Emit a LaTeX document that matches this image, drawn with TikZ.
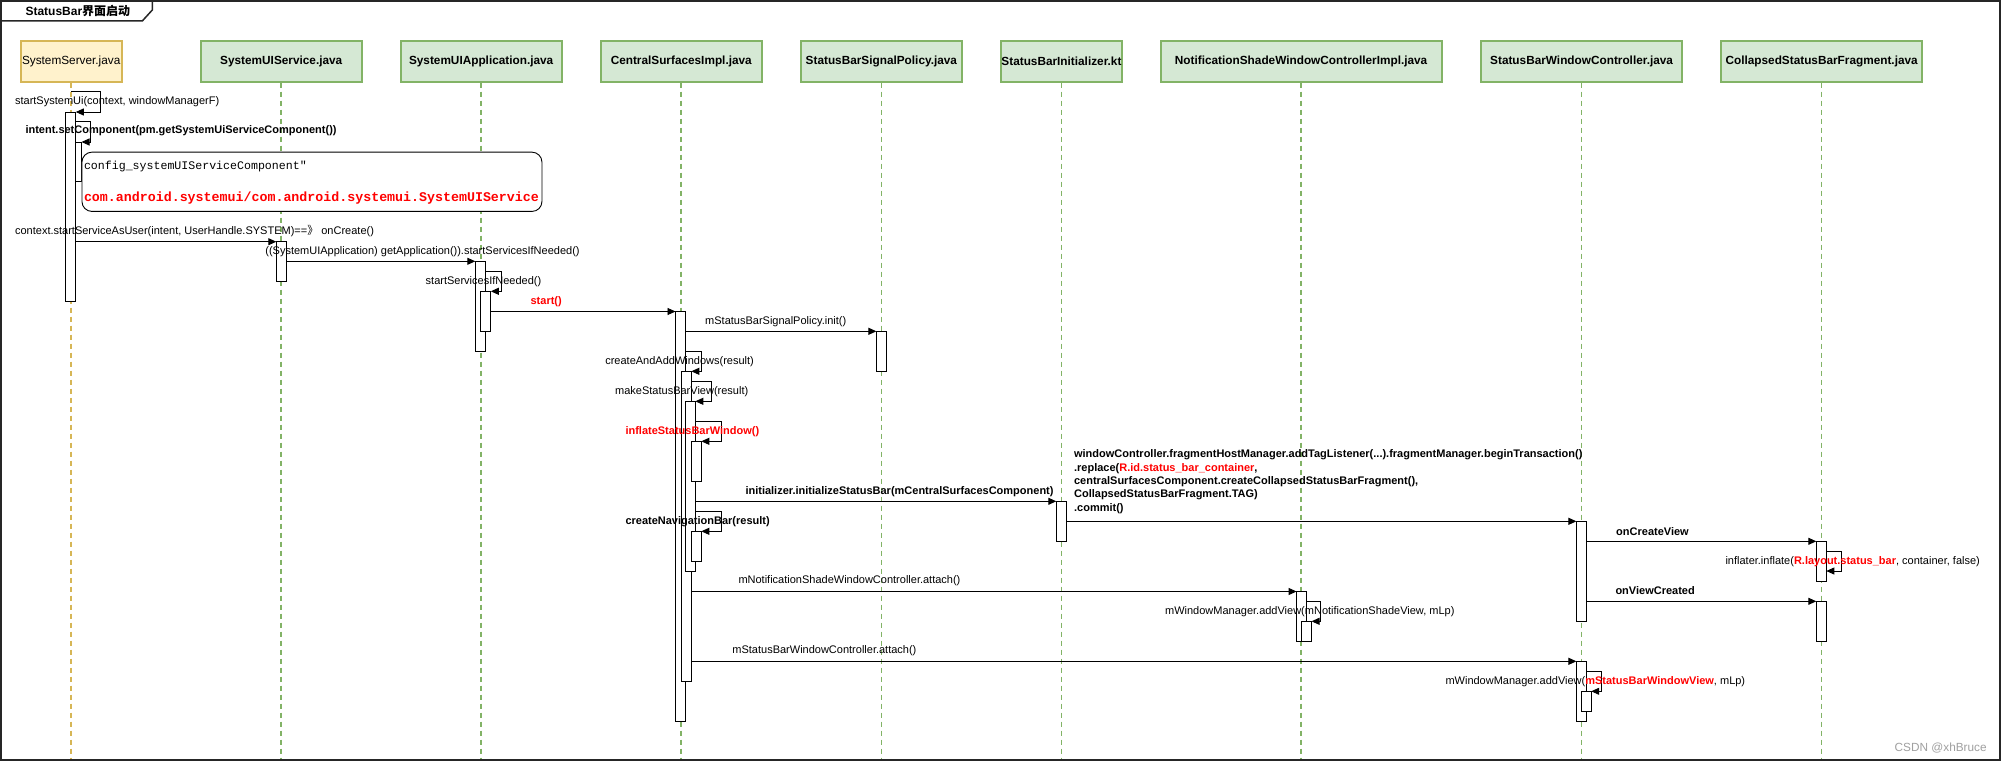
\documentclass[tikz,border=0pt]{standalone}
\usepackage{fontspec}
\setmainfont{Liberation Sans}
\newfontfamily\monof{Liberation Mono}
\newfontfamily\cjk{Noto Sans CJK SC}
\usetikzlibrary{arrows.meta,calc}
\definecolor{gfill}{HTML}{D5E8D4}
\definecolor{gline}{HTML}{82B366}
\definecolor{yfill}{HTML}{FFF2CC}
\definecolor{yline}{HTML}{D6B656}
\definecolor{redt}{HTML}{FF0000}
\definecolor{wmark}{HTML}{A0A0A0}
\begin{document}
\begin{tikzpicture}[x=1pt,y=-1pt,
  hdr/.style={draw=gline, fill=gfill, line width=2pt, minimum height=40.7pt, inner sep=0pt, font=\fontsize{11.8}{14}\selectfont\bfseries},
  hdry/.style={draw=yline, fill=yfill, line width=2pt, minimum height=40.7pt, inner sep=0pt, font=\fontsize{11.8}{14}\selectfont},
  lifeg/.style={draw=gline, line width=1.6pt, dash pattern=on 5pt off 4pt},
  lifey/.style={draw=yline, line width=1.6pt, dash pattern=on 5pt off 4pt},
  act/.style={draw=black, fill=white, line width=0.9pt, anchor=north west, minimum width=10pt, inner sep=0pt, outer sep=0pt},
  msg/.style={draw=black, line width=0.9pt, -{Triangle[length=8pt,width=7pt]}},
  lbl/.style={anchor=west, inner sep=0pt, font=\fontsize{11}{13.3}\selectfont},
  lblb/.style={anchor=west, inner sep=0pt, font=\fontsize{11}{13.3}\selectfont\bfseries},
  notebox/.style={draw=black, fill=white, line width=0.9pt, rounded corners=10pt, anchor=north west, inner sep=0pt},
]
\useasboundingbox (0,0) rectangle (2002,762);
\fill[white] (0,0) rectangle (2002,762);
% frame
\draw[black!85, line width=2pt] (1,1) rectangle (2000,760);
\draw[black!85, line width=1.5pt] (1,21) -- (142.3,21) -- (152.3,10) -- (152.3,1);
\node[anchor=west, inner sep=0pt, font=\fontsize{12}{14}\selectfont\bfseries] (title) at (25.3,11) {StatusBar{\cjk 界面启动}};

% headers
\node[hdry, minimum width=101pt] (SS) at (71.2,61.35) {SystemServer.java};
\node[hdr, minimum width=160.7pt] (SUIS) at (281.25,61.35) {SystemUIService.java};
\node[hdr, minimum width=161.1pt] (SUIA) at (481.15,61.35) {SystemUIApplication.java};
\node[hdr, minimum width=160.7pt] (CS) at (681.25,61.35) {CentralSurfacesImpl.java};
\node[hdr, minimum width=161.5pt] (SBSP) at (881.35,61.35) {StatusBarSignalPolicy.java};
\node[hdr, minimum width=121.3pt] (SBI) at (1061.45,61.35) {StatusBarInitializer.kt};
\node[hdr, minimum width=281.2pt] (NSW) at (1301.1,61.35) {NotificationShadeWindowControllerImpl.java};
\node[hdr, minimum width=201.6pt] (SBWC) at (1581.6,61.35) {StatusBarWindowController.java};
\node[hdr, minimum width=201.3pt] (CSBF) at (1821.65,61.35) {CollapsedStatusBarFragment.java};

\coordinate (bot) at (0,758);
\draw[lifey] (SS.south) -- (SS.south |- bot);
\foreach \n in {SUIS,SUIA,CS,SBSP,SBI,NSW,SBWC,CSBF}
  \draw[lifeg] (\n.south) -- (\n.south |- bot);

% activations
\node[act, minimum height=39.7pt] (A2) at (71.5,142) {};
\node[act, minimum width=10.4pt, minimum height=189.7pt] (A1) at (65.4,112) {};
\node[act, minimum height=39.3pt] (SUISa) at (276.3,241.7) {};
\node[act, minimum height=89.7pt] (SUIAa) at (475.3,261.3) {};
\node[act, minimum height=40pt] (SUIAb) at (480.8,291.3) {};
\node[act, minimum height=409.5pt] (CSa) at (675.5,311.5) {};
\node[act, minimum height=310pt] (CSb) at (681.3,371.3) {};
\node[act, minimum height=170pt] (CSc) at (685.3,401.3) {};
\node[act, minimum height=40pt] (CSd) at (691.3,441.3) {};
\node[act, minimum height=30pt] (CSe) at (691.3,531.3) {};
\node[act, minimum height=40pt] (SBSPa) at (876.4,331.3) {};
\node[act, minimum height=40pt] (SBIa) at (1056.3,501.3) {};
\node[act, minimum height=49.5pt] (NSa) at (1296.6,591.5) {};
\node[act, minimum height=19.7pt] (NSb) at (1301.5,621.3) {};
\node[act, minimum height=100pt] (SBWCa) at (1576.4,521.3) {};
\node[act, minimum height=59.7pt] (SBWCb) at (1576.4,661.3) {};
\node[act, minimum height=19.7pt] (SBWCc) at (1581.2,691.3) {};
\node[act, minimum height=39.7pt] (CSBFa) at (1816.3,541.3) {};
\node[act, minimum height=40pt] (CSBFb) at (1816.3,601.3) {};

% note
\node[notebox, minimum width=460pt, minimum height=59.3pt] (note) at (81.5,151.7) {};
\node[anchor=west, inner sep=0pt, font=\monof\fontsize{11.6}{13}\selectfont] (n1) at (83.8,166.7) {config\_systemUIServiceComponent″};
\node[anchor=west, inner sep=0pt, text=redt, font=\monof\fontsize{13.3}{15}\selectfont\bfseries] (n2) at (83.8,197.7) {com.android.systemui/com.android.systemui.SystemUIService};

% self messages
\draw[msg] ($(SS.south |- A1.north)+(0,-20.3)$) -| ($(A1.north east)+(24.5,0)$) -- (A1.north east);
\draw[msg] ($(A1.north east)+(0,9.7)$) -| ($(A2.north east)+(9.2,0)$) -- (A2.north east);
\draw[msg] ($(SUIAa.north east)+(0,9.7)$) -| ($(SUIAb.north east)+(10.3,0)$) -- (SUIAb.north east);
\draw[msg] ($(CSa.north east)+(0,39.8)$) -| ($(CSb.north east)+(10,0)$) -- (CSb.north east);
\draw[msg] ($(CSb.north east)+(0,10)$) -| ($(CSc.north east)+(16,0)$) -- (CSc.north east);
\draw[msg] ($(CSc.north east)+(0,20)$) -| ($(CSd.north east)+(20,0)$) -- (CSd.north east);
\draw[msg] ($(CSc.north east)+(0,110)$) -| ($(CSe.north east)+(20,0)$) -- (CSe.north east);
\draw[msg] ($(NSa.north east)+(0,10.2)$) -| ($(NSb.north east)+(9.2,0)$) -- (NSb.north east);
\draw[msg] ($(SBWCb.north east)+(0,10)$) -| ($(SBWCc.north east)+(10,0)$) -- (SBWCc.north east);
\draw[msg] ($(CSBFa.north east)+(0,10)$) -| ($(CSBFa.north east)+(15,29.7)$) -- ($(CSBFa.north east)+(0,29.7)$);

% messages
\draw[msg] (A1.east |- SUISa.north) -- (SUISa.north west);
\draw[msg] (SUISa.east |- SUIAa.north) -- (SUIAa.north west);
\draw[msg] (SUIAb.east |- CSa.north) -- (CSa.north west);
\draw[msg] (CSa.east |- SBSPa.north) -- (SBSPa.north west);
\draw[msg] (CSc.east |- SBIa.north) -- (SBIa.north west);
\draw[msg] (SBIa.east |- SBWCa.north) -- (SBWCa.north west);
\draw[msg] (SBWCa.east |- CSBFa.north) -- (CSBFa.north west);
\draw[msg] (SBWCa.east |- CSBFb.north) -- (CSBFb.north west);
\draw[msg] (CSb.east |- NSa.north) -- (NSa.north west);
\draw[msg] (CSb.east |- SBWCb.north) -- (SBWCb.north west);

% labels
\node[lbl] (L1) at (14.9,101.7) {startSystemUi(context, windowManagerF)};
\node[lblb] (L2) at (25.3,131) {intent.setComponent(pm.getSystemUiServiceComponent())};
\node[lbl] (L4) at (14.9,231) {context.startServiceAsUser(intent, UserHandle.SYSTEM)=={\cjk 》} onCreate()};
\node[lbl] (L5) at (265.2,251.7) {((SystemUIApplication) getApplication()).startServicesIfNeeded()};
\node[lbl] (L6) at (425.5,281.7) {startServicesIfNeeded()};
\node[lblb, text=redt] (L7) at (530.4,301.7) {start()};
\node[lbl] (L8) at (705,321.3) {mStatusBarSignalPolicy.init()};
\node[lbl] (L9) at (605.1,361.3) {createAndAddWindows(result)};
\node[lbl] (L10) at (615,391.3) {makeStatusBarView(result)};
\node[lblb, text=redt] (L11) at (625.3,431.3) {inflateStatusBarWindow()};
\node[lblb] (L12) at (745.3,491.3) {initializer.initializeStatusBar(mCentralSurfacesComponent)};
\node[lblb] (L13) at (625.3,521.3) {createNavigationBar(result)};
\node[lblb, align=left] (L14) at (1073.9,481.7) {windowController.fragmentHostManager.addTagListener(...).fragmentManager.beginTransaction()\\.replace({\color{redt}R.id.status\_bar\_container},\\centralSurfacesComponent.createCollapsedStatusBarFragment(),\\CollapsedStatusBarFragment.TAG)\\.commit()};
\node[lblb] (L15) at (1616,531.3) {onCreateView};
\node[lbl] (L16) at (1725.3,561.3) {inflater.inflate({\bfseries\color{redt}R.layout.status\_bar}, container, false)};
\node[lblb] (L17) at (1615.3,591) {onViewCreated};
\node[lbl] (L18) at (738.3,581) {mNotificationShadeWindowController.attach()};
\node[lbl] (L19) at (1164.9,611.7) {mWindowManager.addView(mNotificationShadeView, mLp)};
\node[lbl] (L20) at (732.2,651) {mStatusBarWindowController.attach()};
\node[lbl] (L21) at (1445.3,681.7) {mWindowManager.addView({\bfseries\color{redt}mStatusBarWindowView}, mLp)};
\node[anchor=west, inner sep=0pt, text=wmark, font=\fontsize{11.8}{14}\selectfont] (wm) at (1894.5,747.7) {CSDN @xhBruce};
\end{tikzpicture}
\end{document}
